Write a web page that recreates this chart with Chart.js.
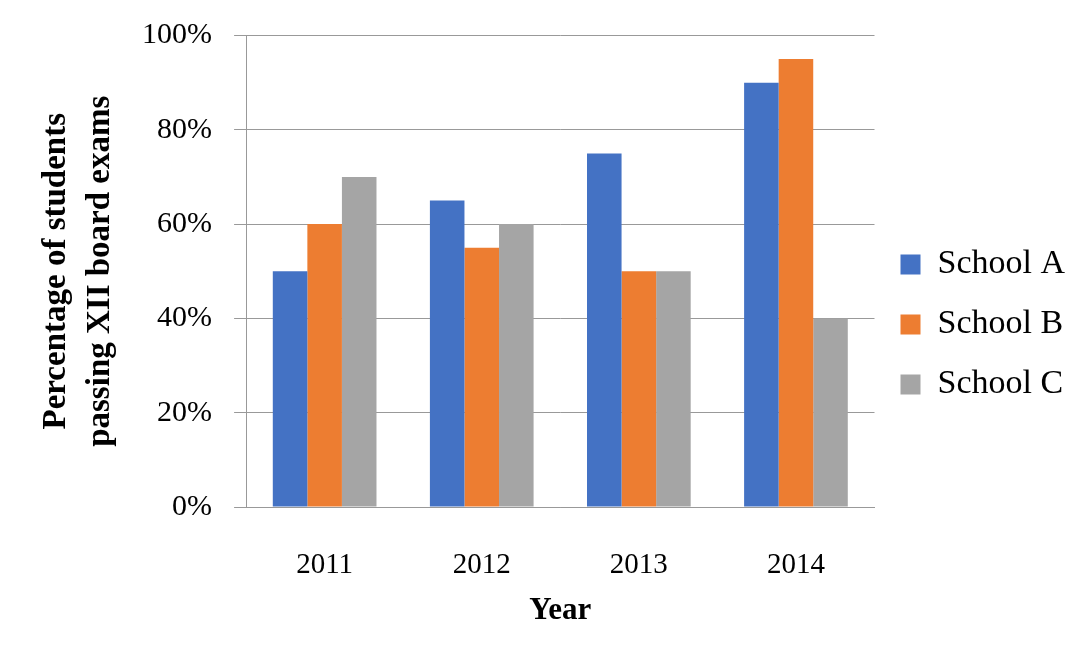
<!DOCTYPE html>
<html>
<head>
<meta charset="utf-8">
<script src="https://cdn.jsdelivr.net/npm/chart.js@4/dist/chart.umd.min.js"></script>
<style>
  html, body { margin: 0; padding: 0; background: #fff; }
  #wrap { width: 1087px; height: 657px; }
</style>
</head>
<body>
<div id="wrap"><canvas id="chart"></canvas></div>
<script>
// Données
const years = ['2011', '2012', '2013', '2014'];
const schoolA = [50, 65, 75, 90];
const schoolB = [60, 55, 50, 95];
const schoolC = [70, 60, 50, 40];
const seriesNames = ['School A', 'School B', 'School C'];
const colors = ['#4472C4', '#ED7D31', '#A5A5A5'];

const serif = "'Liberation Serif', 'DejaVu Serif', serif";
const gridColor = '#999999';

new Chart(document.getElementById('chart'), {
    type: 'bar',
    data: {
        labels: years,
        datasets: [schoolA, schoolB, schoolC].map((vals, i) => ({
            label: seriesNames[i],
            data: vals,
            backgroundColor: colors[i],
            categoryPercentage: 0.66,
            barPercentage: 1.0
        }))
    },
    options: {
        responsive: true,
        maintainAspectRatio: false,
        animation: false,
        layout: { padding: { top: 15, right: 12, bottom: 23, left: 30 } },
        plugins: {
            tooltip: { enabled: false },
            legend: {
                position: 'right',
                labels: {
                    font: { family: serif, size: 34 },
                    color: '#000',
                    boxWidth: 20,
                    boxHeight: 20,
                    padding: 26
                }
            }
        },
        scales: {
            x: {
                grid: { display: false },
                border: { color: gridColor, width: 1 },
                ticks: {
                    font: { family: serif, size: 29 },
                    color: '#000',
                    padding: 33
                },
                title: {
                    display: true,
                    text: 'Year',
                    font: { family: serif, size: 31, weight: 'bold' },
                    color: '#000',
                    padding: { top: -23 }
                }
            },
            y: {
                min: 0,
                max: 100,
                ticks: {
                    stepSize: 20,
                    callback: v => v + '%',
                    font: { family: serif, size: 30, lineHeight: 0.9 },
                    color: '#000',
                    padding: 22
                },
                grid: { color: gridColor, tickLength: 12 },
                border: { color: gridColor, width: 1 },
                title: {
                    display: true,
                    text: ['Percentage of students', 'passing XII board exams'],
                    font: { family: serif, size: 33, weight: 'bold', lineHeight: 1.35 },
                    color: '#000',
                    padding: { bottom: -3 }
                }
            }
        }
    }
});
</script>
</body>
</html>
